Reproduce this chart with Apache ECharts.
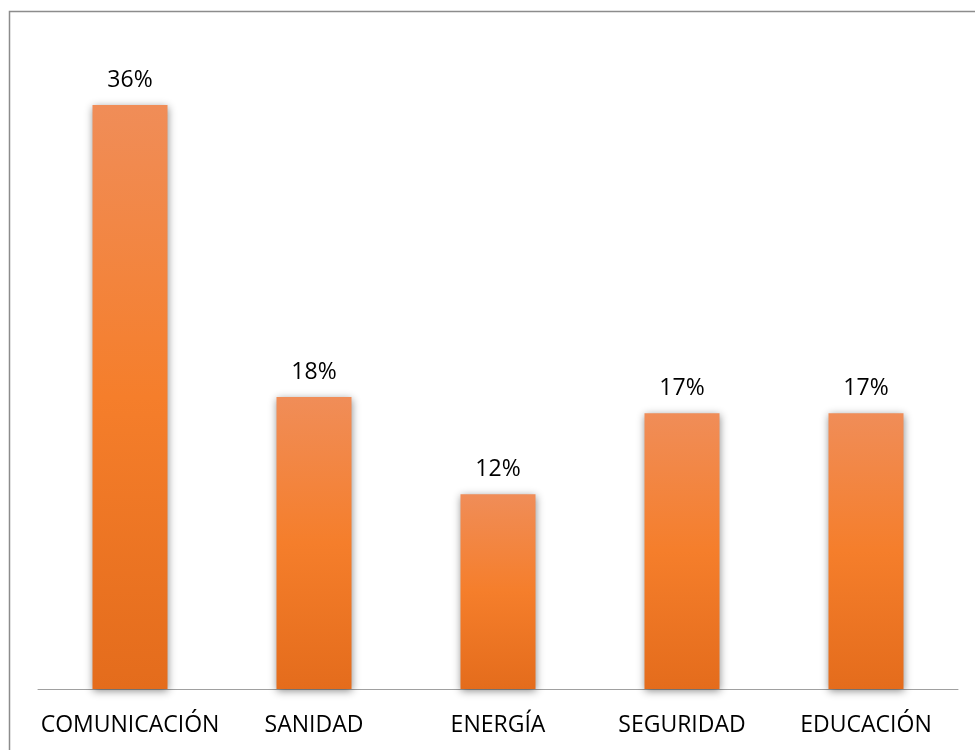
<!DOCTYPE html>
<html>
<head>
<meta charset="utf-8">
<script src="https://cdn.jsdelivr.net/npm/echarts@6/dist/echarts.min.js"></script>
<style>
  html, body { margin: 0; padding: 0; background: #fff; }
  #chart { width: 975px; height: 750px; }
</style>
</head>
<body>
<div id="chart"></div>
<script>
const categories = ['COMUNICACIÓN', 'SANIDAD', 'ENERGÍA', 'SEGURIDAD', 'EDUCACIÓN']
const values = [36, 18, 12, 17, 17]

const chart = echarts.init(document.getElementById('chart'))

const barColor = new echarts.graphic.LinearGradient(0, 0, 0, 1, [
  { offset: 0, color: '#F08D58' },
  { offset: 0.5, color: '#F57E2B' },
  { offset: 1, color: '#E46C1C' }
])

const option = {
  animation: false,
  textStyle: { fontFamily: 'Open Sans' },
  graphic: [{
    type: 'rect',
    shape: { x: 9.5, y: 11.5, width: 1200, height: 1000 },
    style: { fill: 'none', stroke: '#8c8c8c', lineWidth: 1.5 },
    silent: true
  }],
  grid: {
    left: 38,
    right: 17,
    top: 40,
    bottom: 61,
    containLabel: false
  },
  xAxis: {
    type: 'category',
    data: categories,
    axisLine: { lineStyle: { color: '#a0a0a0', width: 1 } },
    axisTick: { show: false },
    axisLabel: {
      color: '#000',
      fontSize: 23,
      margin: 25,
      interval: 0
    }
  },
  yAxis: {
    type: 'value',
    min: 0,
    max: 40,
    show: false,
    splitLine: { show: false }
  },
  series: [{
    type: 'bar',
    data: values,
    barWidth: 75,
    itemStyle: {
      color: barColor,
      shadowColor: 'rgba(0, 0, 0, 0.45)',
      shadowBlur: 8,
      shadowOffsetX: 0,
      shadowOffsetY: 2
    },
    label: {
      show: true,
      position: 'top',
      distance: 13,
      color: '#000',
      fontSize: 23,
      formatter: '{c}%'
    }
  }]
}

chart.setOption(option)
</script>
</body>
</html>
